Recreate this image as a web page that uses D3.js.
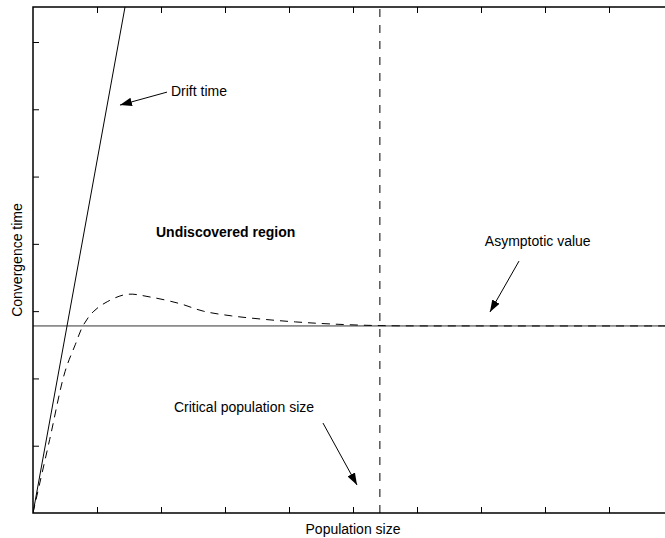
<!DOCTYPE html>
<html><head><meta charset="utf-8">
<script src="https://cdn.jsdelivr.net/npm/d3@7"></script>
<style>
html,body{margin:0;padding:0;background:#fff;}
svg{display:block;font-family:"Liberation Sans",Arial,Helvetica,sans-serif;}
</style></head>
<body>
<svg id="chart" width="665" height="538"></svg>
<script>
// ---- data (in chart units) ----
const xDomain = [0, 10];
const yDomain = [0, 7.52];
const xTicks = [1, 2, 3, 4, 5, 6, 7, 8, 9];
const yTicks = [1, 2, 3, 4, 5, 6, 7];
const xLabel = "Population size";
const yLabel = "Convergence time";
const asymptoticValue = 2.78;
const criticalSize = 5.42;
const driftX = [0, 1.52];
const driftY = [0, 7.95];
const curveX = [0, 0.26, 0.5, 0.66, 0.78, 0.94, 1.16, 1.47, 1.83, 2.3, 2.66, 3.1, 3.59, 4.1, 4.64, 5.42, 7, 10];
const curveY = [0, 1.09, 2.1, 2.5, 2.78, 2.99, 3.14, 3.25, 3.21, 3.11, 3.0, 2.93, 2.88, 2.84, 2.81, 2.785, 2.78, 2.78];
const labels = [
  {text: "Drift time", x: 2.156, y: 6.255, bold: false},
  {text: "Undiscovered region", x: 1.922, y: 4.16, bold: true},
  {text: "Asymptotic value", x: 7.06, y: 4.027, bold: false},
  {text: "Critical population size", x: 2.203, y: 1.56, bold: false}
];
const arrows = [
  {x1: 2.094, y1: 6.255, x2: 1.359, y2: 6.062},
  {x1: 7.594, y1: 3.744, x2: 7.14, y2: 2.987},
  {x1: 4.531, y1: 1.337, x2: 5.0625, y2: 0.416}
];

(function () {
// ---- layout ----
const svg = d3.select("#chart");
const mLeft = 33, mRight = 673, mTop = 7, mBottom = 513;
const x = d3.scaleLinear().domain(xDomain).range([mLeft, mRight]);
const y = d3.scaleLinear().domain(yDomain).range([mBottom, mTop]);

const defs = svg.append("defs");
defs.append("clipPath").attr("id", "clip")
  .append("rect").attr("x", mLeft).attr("y", mTop).attr("width", mRight - mLeft).attr("height", mBottom - mTop);
defs.append("marker").attr("id", "arrow")
  .attr("viewBox", "0 0 10 10").attr("refX", 10).attr("refY", 5)
  .attr("markerWidth", 12).attr("markerHeight", 12).attr("markerUnits", "userSpaceOnUse")
  .attr("orient", "auto")
  .append("path").attr("d", "M0,1.5 L10,5 L0,8.5 Z").attr("fill", "#000");

const plot = svg.append("g").attr("clip-path", "url(#clip)");

// asymptote
plot.append("line")
  .attr("x1", x(xDomain[0])).attr("x2", x(xDomain[1]))
  .attr("y1", y(asymptoticValue)).attr("y2", y(asymptoticValue))
  .attr("stroke", "#333").attr("stroke-width", 1);

// drift line
plot.append("path")
  .datum(driftX.map((d, i) => [d, driftY[i]]))
  .attr("d", d3.line().x(d => x(d[0])).y(d => y(d[1])))
  .attr("fill", "none").attr("stroke", "#000").attr("stroke-width", 1);

// dashed convergence curve
plot.append("path")
  .datum(curveX.map((d, i) => [d, curveY[i]]))
  .attr("d", d3.line().curve(d3.curveCatmullRom.alpha(0.5)).x(d => x(d[0])).y(d => y(d[1])))
  .attr("fill", "none").attr("stroke", "#000").attr("stroke-width", 1)
  .attr("stroke-dasharray", "8,6");

// critical population size
plot.append("line")
  .attr("x1", x(criticalSize)).attr("x2", x(criticalSize))
  .attr("y1", y(yDomain[0])).attr("y2", y(yDomain[1]))
  .attr("stroke", "#000").attr("stroke-width", 1)
  .attr("stroke-dasharray", "8,8");

// axes (inward ticks, mirrored)
const tickLen = 6;
svg.append("g").attr("transform", `translate(0,${mBottom})`)
  .call(d3.axisTop(x).tickValues(xTicks).tickSize(tickLen).tickFormat(""))
  .call(g => g.select(".domain").remove());
svg.append("g").attr("transform", `translate(0,${mTop})`)
  .call(d3.axisBottom(x).tickValues(xTicks).tickSize(tickLen).tickFormat(""))
  .call(g => g.select(".domain").remove());
svg.append("g").attr("transform", `translate(${mLeft},0)`)
  .call(d3.axisRight(y).tickValues(yTicks).tickSize(tickLen).tickFormat(""))
  .call(g => g.select(".domain").remove());
svg.selectAll(".tick line").attr("stroke", "#000").attr("stroke-width", 1);

// frame
svg.append("path")
  .attr("d", `M${mRight},${mTop} L${mLeft},${mTop} L${mLeft},${mBottom} L${mRight},${mBottom}`)
  .attr("fill", "none").attr("stroke", "#000").attr("stroke-width", 1.5);

// axis labels
svg.append("text").attr("x", (mLeft + mRight) / 2).attr("y", 530)
  .attr("text-anchor", "middle").attr("dominant-baseline", "middle")
  .attr("font-size", 14).text(xLabel);
svg.append("text").attr("transform", `translate(18,${(mTop + mBottom) / 2}) rotate(-90)`)
  .attr("text-anchor", "middle").attr("dominant-baseline", "middle")
  .attr("font-size", 14).text(yLabel);

// annotations
svg.selectAll("text.ann").data(labels).join("text").attr("class", "ann")
  .attr("x", d => x(d.x)).attr("y", d => y(d.y))
  .attr("dominant-baseline", "middle")
  .attr("font-size", 14).attr("font-weight", d => d.bold ? "bold" : "normal")
  .text(d => d.text);
svg.selectAll("line.arrow").data(arrows).join("line").attr("class", "arrow")
  .attr("x1", d => x(d.x1)).attr("y1", d => y(d.y1))
  .attr("x2", d => x(d.x2)).attr("y2", d => y(d.y2))
  .attr("stroke", "#000").attr("stroke-width", 1)
  .attr("marker-end", "url(#arrow)");
})();
</script>
</body></html>
